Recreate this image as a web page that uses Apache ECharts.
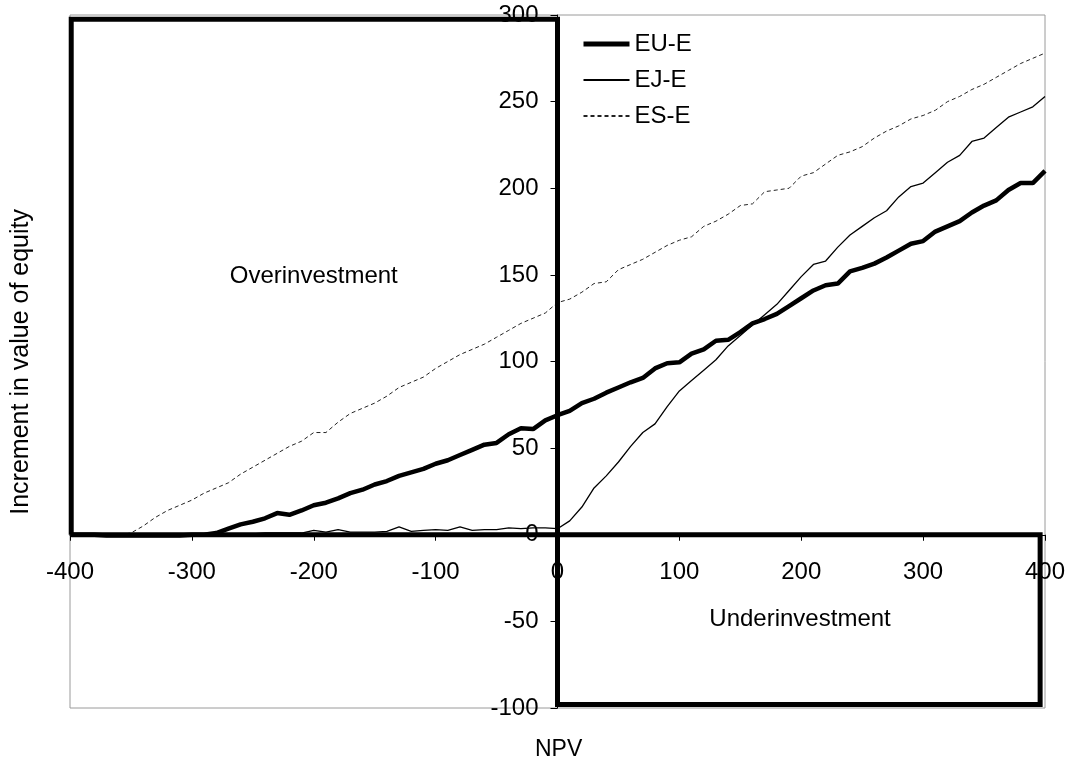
<!DOCTYPE html>
<html>
<head>
<meta charset="utf-8">
<script src="https://cdn.jsdelivr.net/npm/echarts@6/dist/echarts.min.js"></script>
<style>
html,body{margin:0;padding:0;background:#fff;}
#chart{width:1069px;height:764px;}
</style>
</head>
<body>
<div id="chart"></div>
<script>
// NPV values (x)
var npv = [-400,-390,-380,-370,-360,-350,-340,-330,-320,-310,-300,-290,-280,-270,-260,-250,-240,-230,-220,-210,-200,-190,-180,-170,-160,-150,-140,-130,-120,-110,-100,-90,-80,-70,-60,-50,-40,-30,-20,-10,0,10,20,30,40,50,60,70,80,90,100,110,120,130,140,150,160,170,180,190,200,210,220,230,240,250,260,270,280,290,300,310,320,330,340,350,360,370,380,390,400];

var euE = [0,0,0,-0.5,-0.5,-0.5,-0.5,-0.5,-0.5,-0.5,0,0,1,3.5,6,7.5,9.5,12.5,11.5,14,17,18.5,21,24,26,29,31,34,36,38,41,43,46,49,52,53,58,61.5,61,66,69,71.5,76,78.5,82,85,88,90.5,96,99,99.5,104.5,107,112,112.5,117,122,124.5,127.5,132,136.5,141,144,145,152,154,156.5,160,164,168,169.5,175,178,181,186,190,193,199,203,203,210];

var ejE = [0,0,0,0,0,0,0,0,0,0,0.5,0.5,0.5,0.5,0.5,0.5,1,1,1,1,2.5,1.5,3,1.5,1.5,1.5,2,4.5,2,2.5,3,2.5,4.5,2.5,3,3,4,3.5,4,4,3.5,8,16,27,34,42,51,59,64,74,83,89,95,101,109,115,121,127,133,141,149,156,158,166,173,178,183,187,195,201,203,209,215,219,227,229,235,241,244,247,253];

var esE = [0,0,0,0,0,1,5,10,14,17,20,24,27,30,35,39,43,47,51,54,59,59,65,70,73,76,80,85,88,91,96,100,104,107,110,114,118,122,125,128,134,136,140,145,146,153,156,159,163,167,170,172,178,181,185,190,191,198,199,200,207,209,214,219,221,224,229,233,236,240,242,245,250,253,257,260,264,268,272,275,278];

var seriesNames = ['EU-E','EJ-E','ES-E'];

// Tick labels
var xTickLabels = [-400,-300,-200,-100,0,100,200,300,400];
var yTickLabels = [-100,-50,0,50,100,150,200,250,300];

// Region boxes (data coordinates)
var overBox = [[-399,0],[-399,297.5],[0,297.5],[0,0],[-399,0]];
var underBox = [[0,0],[396,0],[396,-98],[0,-98],[0,0]];

// Region labels
var regionLabels = [
  {name:'Overinvestment', value:[-200,149]},
  {name:'Underinvestment', value:[199,-49]}
];

var xTicks = {min:-400, max:400, interval:100};
var yTicks = {min:-100, max:300, interval:50};

function pairs(xs, ys){ return xs.map(function(x,i){return [x, ys[i]];}); }

var FONT = 'Liberation Sans, Arial, sans-serif';
var FS = 24;
var solidText = {fontFamily:FONT, fontSize:FS, color:'#000', textBorderWidth:0, textShadowBlur:0};
var chart = echarts.init(document.getElementById('chart'));
chart.setOption({
  animation:false,
  backgroundColor:'#fff',
  textStyle:{fontFamily:FONT, color:'#000'},
  title:{text:'NPV', left:530, top:733,
         textStyle:{fontFamily:FONT, fontSize:23, fontWeight:'normal', color:'#000'}},
  graphic:[{
    type:'text', left:9, top:209, rotation:Math.PI/2,
    style:{text:'Increment in value of equity', font:'25px Liberation Sans, Arial, sans-serif', fill:'#000'}
  }],
  grid:{left:70, right:24, top:15, bottom:56, show:true, borderColor:'#9a9a9a', borderWidth:1,
        containLabel:false, outerBoundsMode:'none'},
  legend:{
    data:[
      {name:'EU-E', lineStyle:{width:5}},
      {name:'EJ-E'},
      {name:'ES-E'}
    ],
    orient:'vertical', left:576, top:27,
    itemWidth:46, itemHeight:14, itemGap:12,
    itemStyle:{color:'transparent', borderColor:'transparent', borderWidth:0, opacity:0},
    textStyle:{fontFamily:FONT, fontSize:FS, color:'#000'},
    inactiveColor:'#000'
  },
  xAxis:{
    type:'value', min:xTicks.min, max:xTicks.max, interval:xTicks.interval,
    axisLine:{show:true, onZero:true, lineStyle:{color:'#000', width:1}},
    axisTick:{show:true, inside:false, length:6, lineStyle:{color:'#000'}},
    axisLabel:{show:false},
    splitLine:{show:false}
  },
  yAxis:{
    type:'value', min:yTicks.min, max:yTicks.max, interval:yTicks.interval,
    axisLine:{show:true, onZero:true, lineStyle:{color:'#000', width:1}},
    axisTick:{show:true, inside:false, length:7, lineStyle:{color:'#000'}},
    axisLabel:{show:false},
    splitLine:{show:false}
  },
  series:[
    {name:'EU-E', type:'line', data:pairs(npv, euE), showSymbol:false, symbol:'none', smooth:false,
     lineStyle:{color:'#000', width:4.5}, itemStyle:{color:'#000'}, z:3},
    {name:'EJ-E', type:'line', data:pairs(npv, ejE), showSymbol:false, symbol:'none',
     lineStyle:{color:'#000', width:1.3}, itemStyle:{color:'#000'}, z:3},
    {name:'ES-E', type:'line', data:pairs(npv, esE), showSymbol:false, symbol:'none',
     lineStyle:{color:'#222', width:1, type:[4,3]}, itemStyle:{color:'#222'}, z:3},
    {name:'overBox', type:'line', data:overBox, showSymbol:false, symbol:'none', silent:true,
     lineStyle:{color:'#000', width:5, join:'miter'}, z:4},
    {name:'underBox', type:'line', data:underBox, showSymbol:false, symbol:'none', silent:true,
     lineStyle:{color:'#000', width:5, join:'miter'}, z:4},
    {name:'labels', type:'scatter', data:regionLabels, symbolSize:0, silent:true,
     itemStyle:{opacity:1, color:'#000'},
     label:Object.assign({show:true, position:'inside', formatter:'{b}'}, solidText), z:5},
    {name:'xTickLabels', type:'scatter', data:xTickLabels.map(function(v){return [v,0];}), symbolSize:0, silent:true,
     itemStyle:{opacity:1, color:'#000'},
     label:Object.assign({show:true, position:'bottom', distance:26, formatter:function(p){return String(p.value[0]);}}, solidText), z:6},
    {name:'yTickLabels', type:'scatter', data:yTickLabels.map(function(v){return [0,v];}), symbolSize:0, silent:true,
     itemStyle:{opacity:1, color:'#000'},
     label:Object.assign({show:true, position:'left', distance:19, formatter:function(p){return String(p.value[1]);}}, solidText), z:6}
  ]
});
</script>
</body>
</html>
